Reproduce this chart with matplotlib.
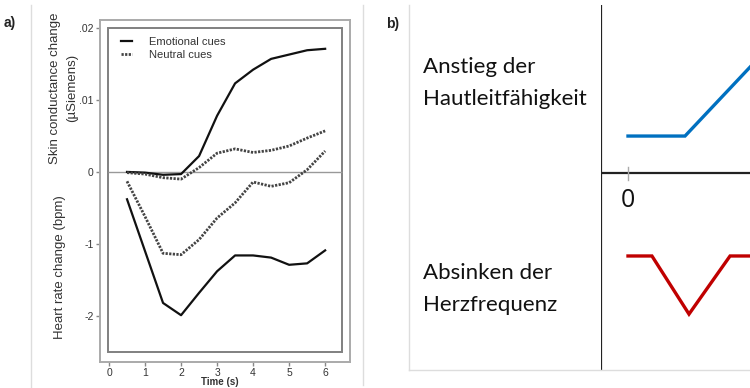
import numpy as np
import matplotlib
matplotlib.use("Agg")
from matplotlib import pyplot as plt
from matplotlib.lines import Line2D
from matplotlib.patches import Rectangle

# panel a: time (s) and responses (skin conductance in .01 uS units, heart rate in bpm)
t = [0.5, 1, 1.5, 2, 2.5, 3, 3.5, 4, 4.5, 5, 5.5, 6]
sc_emo = [0.0, -0.01, -0.04, -0.03, 0.22, 0.78, 1.23, 1.42, 1.57, 1.63, 1.69, 1.71]
sc_neu = [-0.01, -0.03, -0.08, -0.10, 0.06, 0.26, 0.32, 0.27, 0.30, 0.36, 0.47, 0.57]
hr_emo = [-0.38, -1.10, -1.82, -1.99, -1.68, -1.38, -1.16, -1.16, -1.19, -1.29, -1.27, -1.09]
hr_neu = [-0.13, -0.62, -1.13, -1.15, -0.94, -0.64, -0.43, -0.14, -0.20, -0.15, 0.03, 0.29]
yticks = [2, 1, 0, -1, -2]
ytick_labels = ['.02', '.01', '0', '-1', '-2']
xticks = [0, 1, 2, 3, 4, 5, 6]

# panel b: schematic curves
blue_x = [0, 2, 5]
blue_y = [1, 1, 3.45]
red_x = [0, 0.84, 2.14, 3.58, 5]
red_y = [-2.24, -2.24, -3.81, -2.24, -2.24]

W, H = 750, 388
def fx(px):
    return px / W
def fy(py):
    return 1 - py / H

fig = plt.figure(figsize=(7.5, 3.88), dpi=100)
plt.rcParams['font.family'] = ['Liberation Sans', 'DejaVu Sans']

# ---- panel a
ax = fig.add_axes([fx(100), fy(362), 250 / W, 342 / H])
ax.set_xlim(-0.25, 6.69)
ax.set_ylim(-2.64, 2.11)
for s in ax.spines.values():
    s.set_color('#aaaaaa')
    s.set_linewidth(1.4)
ax.add_patch(Rectangle((-0.03, -2.5), 6.5, 4.5, fill=False, edgecolor='#808080', lw=1.4))
ax.hlines(0, -0.03, 6.47, color='#999999', lw=1.0)

dot = (0, (0.8, 0.5))
ax.plot(t, sc_emo, color='#111111', lw=1.6, label='Emotional cues')
ax.plot(t, sc_neu, color='#444444', lw=2.0, ls=dot, label='Neutral cues')
ax.plot(t, hr_emo, color='#111111', lw=1.6)
ax.plot(t, hr_neu, color='#444444', lw=2.0, ls=dot)

ax.set_xticks(xticks)
ax.set_yticks(yticks)
ax.set_yticklabels(ytick_labels)
ax.tick_params(direction='out', length=3, width=1, color='#888888', labelsize=7.5, labelcolor='#333333', pad=1.5)

leg = ax.legend(loc='upper left', bbox_to_anchor=(fx(121), fy(37)), bbox_transform=fig.transFigure,
                frameon=False, fontsize=8, handlelength=1.0, handletextpad=1.5, labelspacing=0.3,
                borderpad=0, borderaxespad=0)
for txt in leg.get_texts():
    txt.set_color('#333333')

fig.text(fx(55), fy(88), 'Skin conductance change', rotation=90, ha='center', va='center', fontsize=9.5, color='#333333')
fig.text(fx(72), fy(88), '(µSiemens)', rotation=90, ha='center', va='center', fontsize=9.5, color='#333333')
fig.text(fx(60), fy(267), 'Heart rate change (bpm)', rotation=90, ha='center', va='center', fontsize=9.5, color='#333333')
fig.text(fx(220), fy(382), 'Time (s)', ha='center', va='center', fontsize=7, color='#333333', weight='bold')
fig.text(fx(4), fy(23), 'a)', ha='left', va='center', fontsize=10, weight='bold', color='#222222')

# faint panel borders
for (x0, y0, x1, y1) in [(31, 5, 31, 388), (363, 5, 363, 385), (409, 5, 409, 370), (409, 370, 750, 370)]:
    fig.add_artist(Line2D([fx(x0), fx(x1)], [fy(y0), fy(y1)], color='#dddddd', lw=1.0))

# ---- panel b
fig.text(fx(386), fy(24), 'b)', ha='left', va='center', fontsize=10, weight='bold', color='#222222')
bx = fig.add_axes([fx(601), fy(370), 149 / W, 365 / H])
bx.set_xlim(-0.947, 4.28)
bx.set_ylim(-5.32, 4.54)
bx.axis('off')
bx.axvline(-0.947, color='#222222', lw=1.6)
bx.axhline(0, color='#222222', lw=1.6)
bx.plot([0, 0], [-0.19, 0.16], color='#aaaaaa', lw=1.0)
bx.text(0, -0.73, '0', ha='center', va='center', fontsize=18, family=['Open Sans', 'DejaVu Sans'], color='#111111')
bx.plot(blue_x, blue_y, color='#0070C0', lw=2.4, solid_joinstyle='miter')
bx.plot(red_x, red_y, color='#C00000', lw=2.4, solid_joinstyle='miter')

fig.text(fx(423), fy(83), 'Anstieg der\nHautleitfähigkeit', ha='left', va='center', fontsize=16,
         linespacing=1.7, family=['Lato', 'DejaVu Sans'], color='#111111')
fig.text(fx(423), fy(289), 'Absinken der\nHerzfrequenz', ha='left', va='center', fontsize=16,
         linespacing=1.7, family=['Lato', 'DejaVu Sans'], color='#111111')

fig.savefig('out.png', dpi=100)
